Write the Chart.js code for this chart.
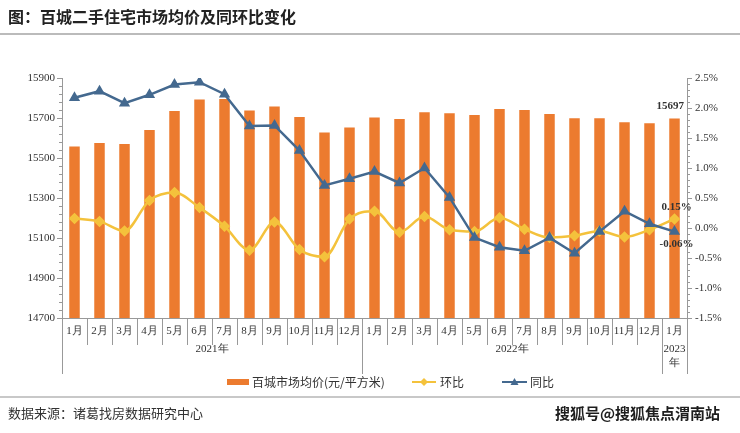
<!DOCTYPE html>
<html>
<head>
<meta charset="utf-8">
<script src="https://cdn.jsdelivr.net/npm/chart.js@4"></script>
<style>
  html, body { margin: 0; padding: 0; background: #fff; }
  #wrap { width: 740px; height: 433px; position: relative; }
</style>
</head>
<body>
<div id="wrap"><canvas id="priceChart"></canvas></div>
<script>
// 百城二手住宅市场均价及同环比变化 - bar + two lines on dual axes

const months = ['1月','2月','3月','4月','5月','6月','7月','8月','9月','10月','11月','12月',
                '1月','2月','3月','4月','5月','6月','7月','8月','9月','10月','11月','12月','1月'];
const yearGroups = [
    { label: ['2021年'], from: 0, to: 11 },
    { label: ['2022年'], from: 12, to: 23 },
    { label: ['2023', '年'], from: 24, to: 24 }
];
// 百城市场均价 (元/平方米)
const avgPrice = [15557, 15575, 15570, 15640, 15735, 15792, 15795, 15738, 15757, 15705, 15628, 15653,
                  15703, 15695, 15729, 15724, 15715, 15745, 15740, 15720, 15699, 15699, 15679, 15674, 15697];
// 环比 (%)
const momChange = [0.16, 0.11, -0.05, 0.46, 0.59, 0.34, 0.03, -0.37, 0.10, -0.36, -0.48, 0.15,
                   0.28, -0.07, 0.19, -0.03, -0.06, 0.17, -0.02, -0.16, -0.13, -0.05, -0.15, -0.03, 0.15];
// 同比 (%)
const yoyChange = [2.17, 2.28, 2.08, 2.22, 2.39, 2.43, 2.23, 1.70, 1.71, 1.29, 0.71, 0.82,
                   0.94, 0.75, 1.00, 0.51, -0.16, -0.32, -0.38, -0.16, -0.42, -0.06, 0.28, 0.07, -0.06];

const ORANGE = '#EC7B2F';
const YELLOW = '#F4C23C';
const BLUE = '#44698F';
const SERIF = '"Liberation Serif", "DejaVu Serif", serif';
const SANS = '"Noto Sans CJK SC", "Noto Sans", sans-serif';

const decorPlugin = {
    id: 'decor',
    afterDraw(chart) {
        const { ctx, chartArea: a, scales: { x, y, y1 } } = chart;
        ctx.save();

        // Title and rule
        ctx.fillStyle = '#222';
        ctx.font = 'bold 16px ' + SANS;
        ctx.textBaseline = 'middle';
        ctx.textAlign = 'left';
        ctx.fillText('图：百城二手住宅市场均价及同环比变化', 8, 17);
        ctx.fillStyle = '#bbb';
        ctx.fillRect(0, 33, 740, 2);

        // Minor ticks on both value axes
        ctx.strokeStyle = '#999';
        ctx.lineWidth = 1;
        ctx.beginPath();
        for (let v = 14700; v <= 15900; v += 40) {
            const py = Math.round(y.getPixelForValue(v)) + 0.5;
            ctx.moveTo(a.left - 3, py); ctx.lineTo(a.left, py);
        }
        for (let v = -1.5; v <= 2.501; v += 0.1) {
            const py = Math.round(y1.getPixelForValue(v)) + 0.5;
            ctx.moveTo(a.right, py); ctx.lineTo(a.right + 3, py);
        }
        ctx.stroke();

        // Category separators, month labels and year groups
        const step = x.getPixelForValue(1) - x.getPixelForValue(0);
        ctx.beginPath();
        for (let i = 0; i <= months.length; i++) {
            const bx = Math.round(x.getPixelForValue(i) - step / 2) + 0.5;
            const isYear = yearGroups.some(g => g.from === i) || i === months.length;
            ctx.moveTo(bx, a.bottom);
            ctx.lineTo(bx, isYear ? 374 : 345);
        }
        ctx.stroke();

        ctx.fillStyle = '#333';
        ctx.font = '11px ' + SERIF;
        ctx.textAlign = 'center';
        months.forEach((m, i) => ctx.fillText(m, x.getPixelForValue(i), 331));
        yearGroups.forEach(g => {
            const cx = (x.getPixelForValue(g.from) + x.getPixelForValue(g.to)) / 2;
            g.label.forEach((t, k) => ctx.fillText(t, cx, 349 + k * 14));
        });

        // Value labels at the last point
        const last = months.length - 1;
        const lx = x.getPixelForValue(last);
        ctx.font = 'bold 11px ' + SERIF;
        ctx.fillStyle = '#333';
        ctx.textAlign = 'right';
        ctx.fillText(String(avgPrice[last]), a.right - 3, y.getPixelForValue(avgPrice[last]) - 12);
        ctx.textAlign = 'center';
        ctx.fillText(momChange[last].toFixed(2) + '%', lx + 2, y1.getPixelForValue(momChange[last]) - 12);
        ctx.fillText(yoyChange[last].toFixed(2) + '%', lx + 2, y1.getPixelForValue(yoyChange[last]) + 13);

        // Legend
        const ly = 382;
        ctx.font = '12px ' + SANS;
        ctx.textAlign = 'left';
        ctx.fillStyle = ORANGE;
        ctx.fillRect(227, ly - 3, 22, 6);
        ctx.fillStyle = '#333';
        ctx.fillText('百城市场均价(元/平方米)', 252, ly);

        ctx.strokeStyle = YELLOW; ctx.lineWidth = 2;
        ctx.beginPath(); ctx.moveTo(412, ly); ctx.lineTo(436, ly); ctx.stroke();
        ctx.fillStyle = YELLOW;
        ctx.beginPath();
        ctx.moveTo(424, ly - 4); ctx.lineTo(428, ly); ctx.lineTo(424, ly + 4); ctx.lineTo(420, ly);
        ctx.closePath(); ctx.fill();
        ctx.fillStyle = '#333';
        ctx.fillText('环比', 440, ly);

        ctx.strokeStyle = BLUE;
        ctx.beginPath(); ctx.moveTo(502, ly); ctx.lineTo(527, ly); ctx.stroke();
        ctx.fillStyle = BLUE;
        ctx.beginPath();
        ctx.moveTo(514.5, ly - 4); ctx.lineTo(518.5, ly + 3); ctx.lineTo(510.5, ly + 3);
        ctx.closePath(); ctx.fill();
        ctx.fillStyle = '#333';
        ctx.fillText('同比', 530, ly);

        // Footer
        ctx.fillStyle = '#c8c8c8';
        ctx.fillRect(0, 396, 740, 2);
        ctx.fillStyle = '#333';
        ctx.font = '13px ' + SANS;
        ctx.fillText('数据来源：诸葛找房数据研究中心', 8, 413);
        ctx.font = 'bold 15px ' + SANS;
        ctx.fillStyle = '#1e1e1e';
        ctx.fillText('搜狐号@搜狐焦点渭南站', 555, 413);

        ctx.restore();
    }
};

new Chart(document.getElementById('priceChart'), {
    data: {
        labels: months,
        datasets: [
            {
                type: 'line',
                label: '同比',
                data: yoyChange,
                yAxisID: 'y1',
                borderColor: BLUE,
                backgroundColor: BLUE,
                borderWidth: 2.5,
                pointStyle: 'triangle',
                pointRadius: 4,
                tension: 0,
                order: 0
            },
            {
                type: 'line',
                label: '环比',
                data: momChange,
                yAxisID: 'y1',
                borderColor: YELLOW,
                backgroundColor: YELLOW,
                borderWidth: 2.5,
                pointStyle: 'rectRot',
                pointRadius: 4,
                cubicInterpolationMode: 'monotone',
                tension: 0.4,
                order: 1
            },
            {
                type: 'bar',
                label: '百城市场均价(元/平方米)',
                data: avgPrice,
                yAxisID: 'y',
                backgroundColor: ORANGE,
                barPercentage: 0.42,
                categoryPercentage: 1,
                order: 2
            }
        ]
    },
    options: {
        responsive: true,
        maintainAspectRatio: false,
        animation: false,
        layout: { padding: { top: 78, left: 0, right: 0, bottom: 0 } },
        plugins: { legend: { display: false }, tooltip: { enabled: false } },
        scales: {
            x: {
                type: 'category',
                offset: true,
                ticks: { display: false },
                grid: { display: false },
                border: { display: true, color: '#999' },
                afterFit: s => { s.height = 115; }
            },
            y: {
                position: 'left',
                min: 14700, max: 15900,
                ticks: {
                    stepSize: 200, color: '#333', font: { family: SERIF, size: 11 }, padding: 2,
                    callback: v => String(v)
                },
                grid: { drawOnChartArea: false, drawTicks: true, tickLength: 5, color: '#999' },
                border: { display: true, color: '#999' },
                afterFit: s => { s.width = 62; }
            },
            y1: {
                position: 'right',
                min: -1.5, max: 2.5,
                ticks: {
                    stepSize: 0.5, color: '#333', font: { family: SERIF, size: 11 }, padding: 3,
                    callback: v => v.toFixed(1) + '%'
                },
                grid: { drawOnChartArea: false, drawTicks: true, tickLength: 5, color: '#999' },
                border: { display: true, color: '#999' },
                afterFit: s => { s.width = 53; }
            }
        }
    },
    plugins: [decorPlugin]
});
</script>
</body>
</html>
